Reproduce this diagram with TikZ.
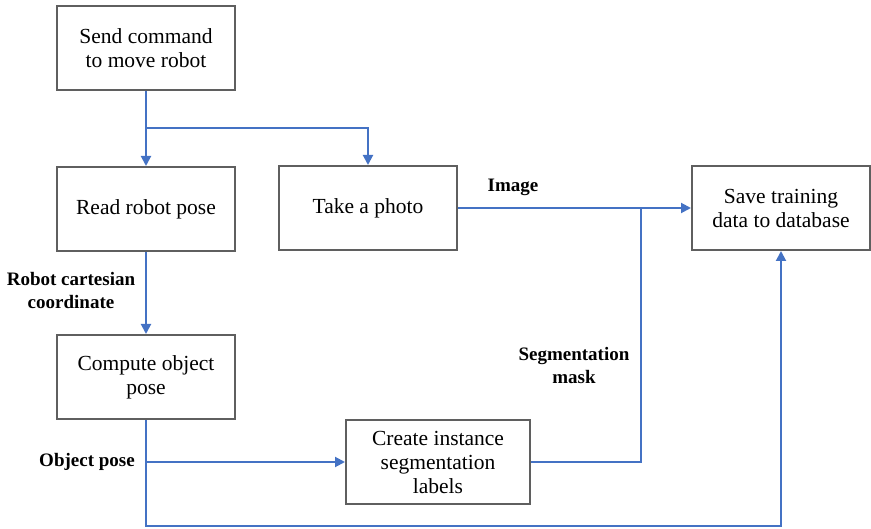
\documentclass[tikz,border=0pt]{standalone}
\usepackage{fontspec}
\setmainfont{Liberation Serif}
\usetikzlibrary{arrows.meta}

\definecolor{flowblue}{RGB}{68,114,196}
\definecolor{boxgray}{RGB}{95,95,95}

\tikzset{
  stepbox/.style={draw=boxgray, line width=2pt, fill=white, align=center,
    minimum width=178pt, minimum height=84pt, inner sep=2pt,
    font=\fontsize{21.5}{24}\selectfont},
  flow/.style={draw=flowblue, line width=2pt, -{Triangle[length=10pt,width=10pt]}},
  link/.style={draw=flowblue, line width=2pt},
  tag/.style={align=center, font=\fontsize{19}{23}\selectfont\bfseries}
}

\begin{document}
\begin{tikzpicture}[x=1pt,y=-1pt]
\useasboundingbox (0,0) rectangle (871,529);

% we draw the boxes
\node[stepbox] (send) at (146,48) {Send command\\to move robot};
\node[stepbox] (read) at (146,209) {Read robot pose};
\node[stepbox] (photo) at (368,208) {Take a photo};
\node[stepbox] (save) at (781,208) {Save training\\data to database};
\node[stepbox] (compute) at (146,377) {Compute object\\pose};
\node[stepbox, minimum width=184pt] (create) at (438,462) {Create instance\\segmentation\\labels};

% junction points
\coordinate (split) at (146,128);
\coordinate (join) at (641,208);
\coordinate (tap) at (146,462);
\coordinate (low) at (146,526);

% we draw the connectors
\draw[flow] (send.south) -- (read.north);
\draw[flow] (split) -| (photo.north);
\draw[flow] (photo.east) -- (save.west);
\draw[flow] (read.south) -- (compute.north);
\draw[flow] (tap) -- (create.west);
\draw[link] (create.east) -| (join);
\draw[flow] (compute.south) -- (low) -| (save.south);

% we add some labels
\node[tag] (imagetag) at (513,187) {Image};
\node[tag] (masktag) at (574,366) {Segmentation\\mask};
\node[tag] (coordtag) at (71,291) {Robot cartesian\\coordinate};
\node[tag] (posetag) at (87,462) {Object pose};

\end{tikzpicture}
\end{document}
